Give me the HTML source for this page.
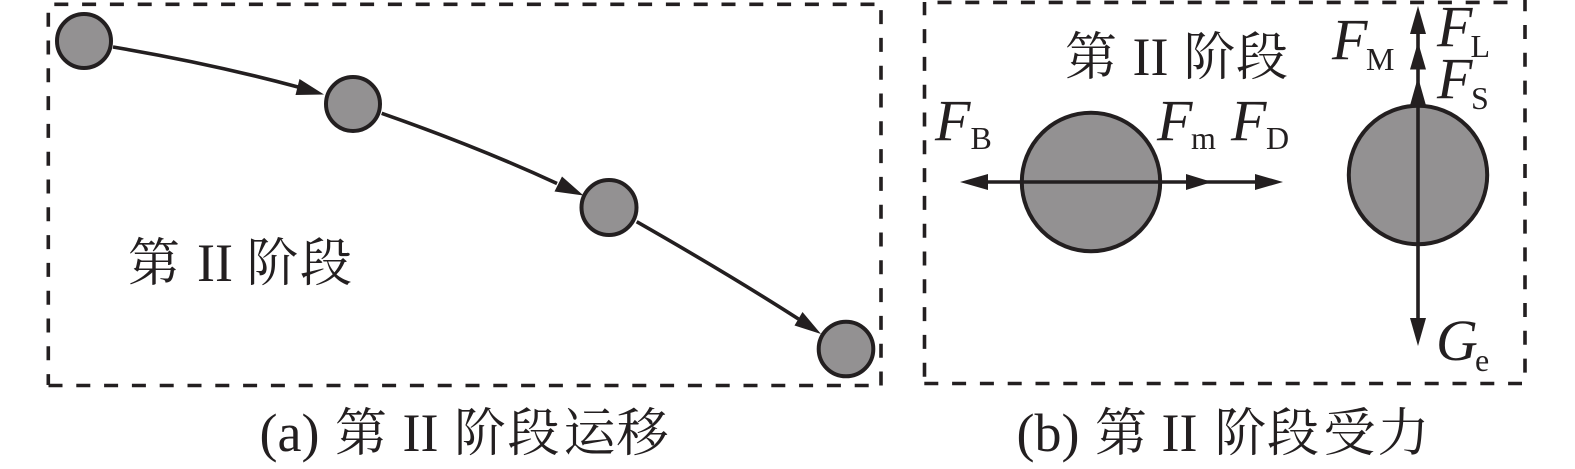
<!DOCTYPE html>
<html><head><meta charset="utf-8">
<style>
html,body{margin:0;padding:0;background:#fff;width:1575px;height:469px;overflow:hidden}
svg{display:block}
text{font-family:"Liberation Serif","Noto Serif CJK SC",serif;fill:#231f20}
.c{font-size:52px}
.r{font-size:54px}
.i{font-style:italic;font-size:58px}
.s{font-size:32px}
</style></head><body>
<svg width="1575" height="469" viewBox="0 0 1575 469">
<g fill="none" stroke="#231f20" stroke-width="3.6" stroke-dasharray="14 13.8">
<path d="M54.3 4.3H875"/>
<path d="M48.3 12.7V385"/>
<path d="M868.7 385.5H48"/>
<path d="M881 385.5V3"/>
<path d="M1507.5 2.4H925"/>
<path d="M924.5 376.7V2"/>
<path d="M924.3 383.5H1522"/>
<path d="M1525 -2.8V385"/>
</g>
<g fill="none" stroke="#231f20" stroke-width="3.6">
<path d="M113 47Q208.5 63 298 87"/>
<path d="M381.7 113.3Q478 147 557 183.5"/>
<path d="M636.7 221.7Q730 275 798.5 319"/>
</g>
<g fill="#231f20">
<path d="M324 94.5L299.5 79L295.5 95Z"/>
<path d="M583.5 195.5L562 176.5L554.5 191.5Z"/>
<path d="M821 334L802.5 312L794.5 325.5Z"/>
</g>
<g fill="#939192" stroke="#231f20" stroke-width="4">
<circle cx="84" cy="41" r="27"/>
<circle cx="353" cy="104" r="27"/>
<circle cx="609" cy="207.5" r="27.5"/>
<circle cx="846" cy="349" r="27.3"/>
<circle cx="1091" cy="182" r="69.2"/>
<circle cx="1418" cy="175" r="69.2"/>
</g>
<g stroke="#231f20" stroke-width="3.6">
<line x1="985" y1="182" x2="1262" y2="182"/>
<line x1="1418" y1="30" x2="1418" y2="322"/>
</g>
<g fill="#231f20">
<path d="M960 182L988 174V190Z"/>
<path d="M1212 182L1186 174V190Z"/>
<path d="M1283 182L1255 174V190Z"/>
<path d="M1418 6L1410 34H1426Z"/>
<path d="M1418 42L1410 69.5H1426Z"/>
<path d="M1418 77L1410 105.5H1426Z"/>
<path d="M1418 346L1410 318H1426Z"/>
</g>
<text class="c" x="128" y="281">第</text><text class="r" x="197" y="281">II</text><text class="c" x="246.5" y="281">阶</text><text class="c" x="300" y="281">段</text>
<text class="c" x="1065" y="75">第</text><text class="r" x="1132.5" y="75">II</text><text class="c" x="1183.5" y="75">阶</text><text class="c" x="1236" y="75">段</text>
<text class="r" x="259.5" y="451">(a)</text><text class="c" x="335" y="451">第</text><text class="r" x="402.5" y="451">II</text><text class="c" x="454" y="451">阶</text><text class="c" x="507.5" y="451">段</text><text class="c" x="563.5" y="451">运</text><text class="c" x="616.5" y="451">移</text>
<text class="r" x="1016.5" y="451">(b)</text><text class="c" x="1095" y="451">第</text><text class="r" x="1161.5" y="451">II</text><text class="c" x="1214.5" y="451">阶</text><text class="c" x="1267" y="451">段</text><text class="c" x="1323.5" y="451">受</text><text class="c" x="1377.5" y="451">力</text>
<text class="i" x="935" y="140">F</text><text class="s" x="970.5" y="149">B</text>
<text class="i" x="1157" y="140">F</text><text class="s" x="1191" y="149">m</text>
<text class="i" x="1231" y="140">F</text><text class="s" x="1266" y="149">D</text>
<text class="i" x="1332" y="59">F</text><text class="s" x="1366" y="70">M</text>
<text class="i" x="1437" y="46">F</text><text class="s" x="1470.5" y="57">L</text>
<text class="i" x="1437" y="98">F</text><text class="s" x="1471" y="109">S</text>
<text class="i" x="1436" y="360">G</text><text class="s" x="1475" y="371">e</text>
</svg>
</body></html>
